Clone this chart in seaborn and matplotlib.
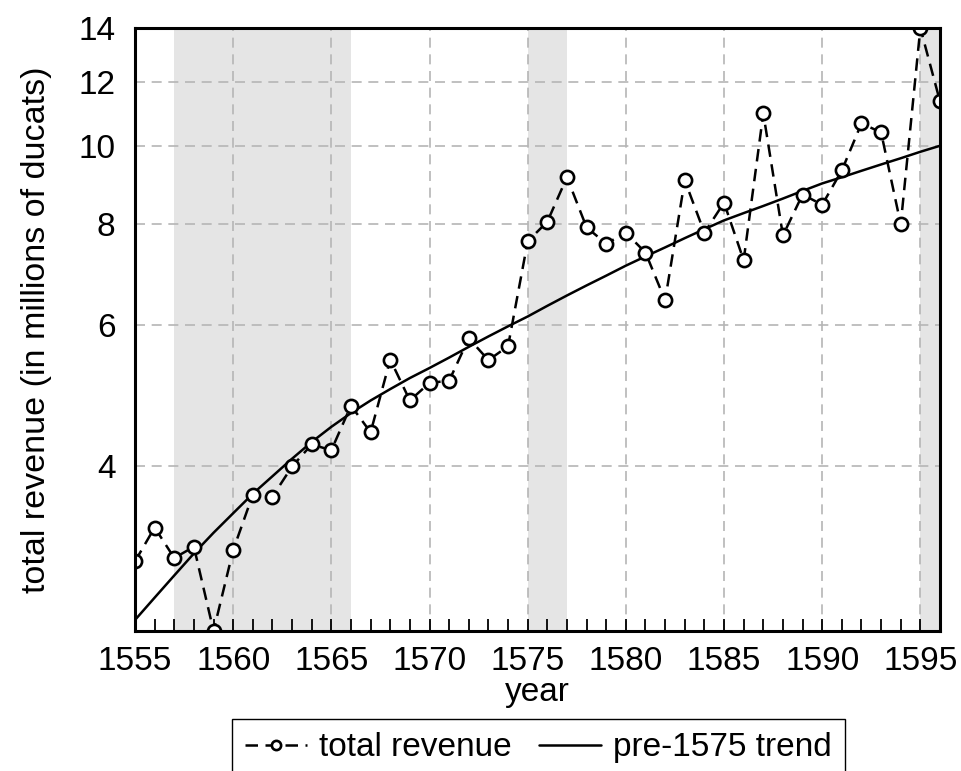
import numpy as np
import pandas as pd
import matplotlib
matplotlib.use("Agg")
import matplotlib.pyplot as plt
import seaborn as sns
from matplotlib.ticker import FixedLocator, FixedFormatter, NullLocator, MultipleLocator

years = list(range(1555, 1597))
revenue = [3.05, 3.36, 3.08, 3.18, 2.50, 3.15, 3.69, 3.67, 4.00, 4.26,
           4.19, 4.76, 4.41, 5.43, 4.83, 5.08, 5.11, 5.77, 5.42, 5.64,
           7.61, 8.05, 9.14, 7.92, 7.56, 7.80, 7.37, 6.43, 9.06, 7.80,
           8.50, 7.21, 10.97, 7.74, 8.70, 8.45, 9.32, 10.66, 10.39, 7.99,
           14.0, 11.35]
trend = [2.58, 2.75, 2.93, 3.12, 3.31, 3.50, 3.70, 3.89, 4.09, 4.29,
         4.48, 4.66, 4.83, 4.99, 5.15, 5.30, 5.46, 5.63, 5.80, 5.97,
         6.14, 6.33, 6.52, 6.71, 6.90, 7.10, 7.29, 7.48, 7.68, 7.88,
         8.08, 8.25, 8.42, 8.60, 8.79, 8.98, 9.14, 9.31, 9.48, 9.65,
         9.83, 10.0]
shade_start = [1557, 1575, 1595]
shade_end = [1566, 1577, 1596]
x_ticks = [1555, 1560, 1565, 1570, 1575, 1580, 1585, 1590, 1595]
y_ticks = [4, 6, 8, 10, 12, 14]
y_labels = ["4", "6", "8", "10", "12", "14"]

sns.set_style("white")
plt.rcParams["font.family"] = ["Liberation Sans", "DejaVu Sans"]
plt.rcParams.update({"text.color": "black", "axes.labelcolor": "black",
                     "xtick.color": "black", "ytick.color": "black"})

fig = plt.figure(figsize=(9.61, 7.71), dpi=100)
ax = fig.add_axes([135 / 961, 1 - 631 / 771, (940 - 135) / 961, (631 - 28) / 771])

for s, e in zip(shade_start, shade_end):
    ax.axvspan(s, e, color="#e5e5e5", lw=0, zorder=0)

df = pd.DataFrame({"year": years, "revenue": revenue, "trend": trend})
sns.lineplot(data=df, x="year", y="trend", ax=ax, color="black", lw=1.8,
             label="pre-1575 trend", zorder=2)
sns.lineplot(data=df, x="year", y="revenue", ax=ax, color="black", lw=1.8,
             linestyle=(0, (5, 3)), marker="o", markersize=9.5,
             markerfacecolor="white", markeredgecolor="black",
             markeredgewidth=1.9, label="total revenue", zorder=3)

ax.set_yscale("log")
ax.set_xlim(1555, 1596)
ax.set_ylim(2.5, 14)
ax.yaxis.set_major_locator(FixedLocator(y_ticks))
ax.yaxis.set_major_formatter(FixedFormatter(y_labels))
ax.yaxis.set_minor_locator(NullLocator())
ax.xaxis.set_major_locator(FixedLocator(x_ticks))
ax.xaxis.set_minor_locator(MultipleLocator(1))

ax.tick_params(axis="x", which="both", direction="in", length=9, width=1.3,
               bottom=True, top=False, labelsize=24, pad=11, color="black",
               labelcolor="black")
ax.tick_params(axis="y", which="both", length=0, labelsize=24, pad=14,
               labelcolor="black")
ax.grid(True, which="major", color="#b5b5b5", linestyle=(0, (6, 4)), lw=1.2)
ax.set_axisbelow(True)
for sp in ax.spines.values():
    sp.set_color("black")
    sp.set_linewidth(2.2)
    sp.set_zorder(5)

ax.set_xlabel("year", fontsize=24, labelpad=0)
ax.set_ylabel("total revenue (in millions of ducats)", fontsize=24.5, labelpad=19)

handles, labels = ax.get_legend_handles_labels()
order = [labels.index("total revenue"), labels.index("pre-1575 trend")]
ax.legend([handles[i] for i in order], [labels[i] for i in order],
          loc="upper center", bbox_to_anchor=(538.5 / 961, 1 - 719 / 771),
          bbox_transform=fig.transFigure, ncol=2, fontsize=24,
          frameon=True, fancybox=False, edgecolor="black", framealpha=1,
          borderaxespad=0, handlelength=1.85, columnspacing=0.84,
          handletextpad=0.36, borderpad=0.4, markerscale=0.7)
ax.get_legend().get_frame().set_linewidth(1.0)

fig.savefig("out.png", dpi=100)
